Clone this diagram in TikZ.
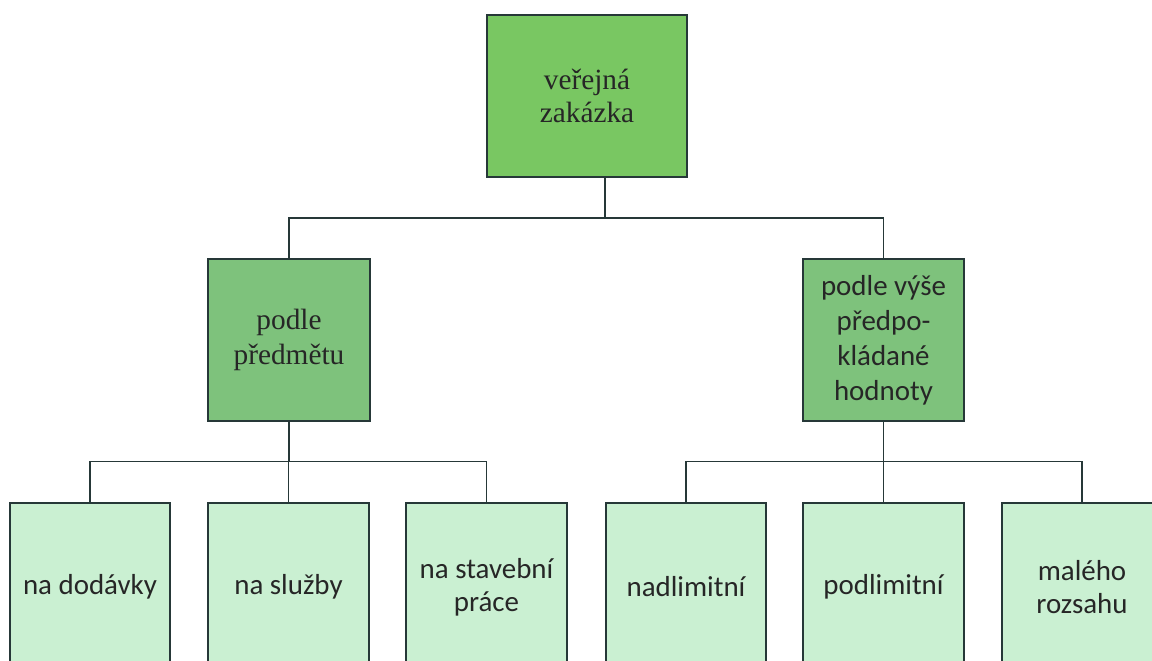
\documentclass[tikz,border=0pt]{standalone}
\usepackage{fontspec}
\setmainfont{Liberation Serif}
\newfontfamily\calfont{Carlito}
\definecolor{topgreen}{RGB}{121,199,98}
\definecolor{midgreen}{RGB}{126,194,124}
\definecolor{lowgreen}{RGB}{202,240,210}
\definecolor{linec}{RGB}{38,56,56}
\tikzset{
  box/.style={draw=linec, line width=1.4pt, rectangle, inner sep=0pt, outer sep=0pt, align=center, text=black!85},
  topbox/.style={box, fill=topgreen, minimum width=150pt, minimum height=121.5pt, font=\fontsize{22}{25}\selectfont},
  midbox/.style={box, fill=midgreen, minimum width=121pt, minimum height=121.5pt},
  lowbox/.style={box, fill=lowgreen, minimum width=120.5pt, minimum height=126pt, font=\calfont\fontsize{21.7}{25}\selectfont},
  conn/.style={draw=linec, line width=1.4pt}
}
\begin{document}
\begin{tikzpicture}[x=0.75pt, y=-0.75pt]
\useasboundingbox (0,0) rectangle (1152,660);
\clip (0,0) rectangle (1152,660);
\fill[white] (0,0) rectangle (1152,660);
% nodes
\node[topbox] (top) at (587,96) {veřejná\\zakázka};
\node[midbox, font=\fontsize{22}{26}\selectfont] (ml) at (289,340) {podle\\předmětu};
\node[midbox, font=\calfont\fontsize{21.7}{26.2}\selectfont] (mr) at (883.5,340) {podle výše\\předpo-\\kládané\\hodnoty};
\node[lowbox] (b1) at (90,587) {na dodávky};
\node[lowbox] (b2) at (288.5,587) {na služby};
\node[lowbox] (b3) at (486.5,587) {na stavební\\práce};
\node[lowbox] (b4) at (686,587) {nadlimitní};
\node[lowbox] (b5) at (883.5,587) {podlimitní};
\node[lowbox] (b6) at (1082,587) {malého\\rozsahu};
% connector helper points
\coordinate (tj) at ([xshift=13.5pt]top.south);
\coordinate (hy) at (0,218);
\coordinate (ly) at (0,461.5);
% top level
\draw[conn] (tj) -- (tj |- hy);
\draw[conn] (ml.north) -- (ml.north |- hy) -- (mr.north |- hy) -- (mr.north);
% left branch
\draw[conn] (ml.south) -- (ml.south |- ly);
\draw[conn] (b1.north) -- (b1.north |- ly) -- (b3.north |- ly) -- (b3.north);
\draw[conn] (b2.north) -- (b2.north |- ly);
% right branch
\draw[conn] (mr.south) -- (mr.south |- ly);
\draw[conn] (b4.north) -- (b4.north |- ly) -- (b6.north |- ly) -- (b6.north);
\draw[conn] (b5.north) -- (b5.north |- ly);
\end{tikzpicture}
\end{document}
